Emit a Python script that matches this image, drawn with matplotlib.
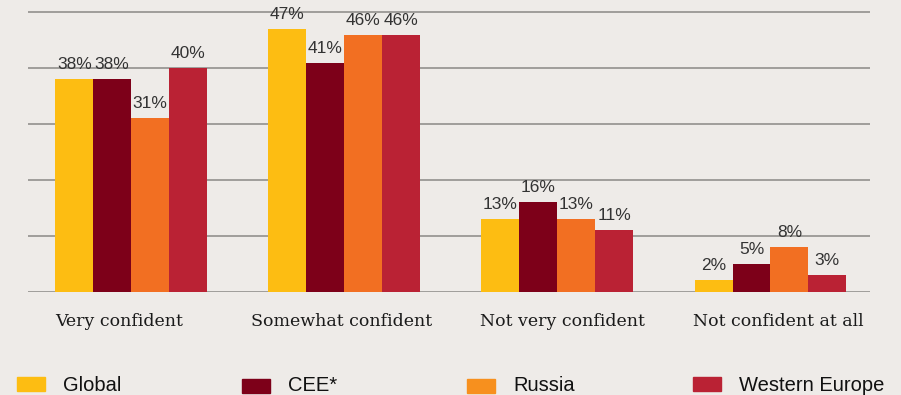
import numpy as np
import matplotlib.pyplot as plt
from matplotlib.patches import Rectangle

# survey answers, % of respondents
categories = ['Very confident', 'Somewhat confident', 'Not very confident', 'Not confident at all']
series = ['Global', 'CEE*', 'Russia', 'Western Europe']
global_vals = [38, 47, 13, 2]
cee_vals = [38, 41, 16, 5]
russia_vals = [31, 46, 13, 8]
west_vals = [40, 46, 11, 3]

bar_colors = ['#FDBD12', '#7D0019', '#F26F22', '#BA2234']
legend_colors = ['#FDBD12', '#7D0019', '#F7901E', '#BA2234']
bg = '#EEEBE8'

plt.rcParams['font.family'] = ['Liberation Sans', 'DejaVu Sans']

fig = plt.figure(figsize=(9.01, 3.95), dpi=100, facecolor=bg)
ax = fig.add_axes([28/901, 103.5/395, 842/901, 291.5/395])
ax.set_facecolor(bg)

x = np.arange(len(categories))
w = 0.178
vals = [global_vals, cee_vals, russia_vals, west_vals]
for i, v in enumerate(vals):
    pos = x + (i - 1.5) * w
    bars = ax.bar(pos, v, w, color=bar_colors[i], zorder=3)
    for b, val in zip(bars, v):
        ax.annotate('%d%%' % val, (b.get_x() + b.get_width() / 2, val),
                    xytext=(0, 5), textcoords='offset points',
                    ha='center', va='bottom', fontsize=12.5, color='#333333', zorder=4)

ax.set_xlim(-0.484, 3.467)
ax.set_ylim(0, 52.2)
ax.set_yticks([0, 10, 20, 30, 40, 50])
ax.yaxis.grid(True, color='#8A8886', linewidth=1.1, zorder=0)
ax.tick_params(axis='y', left=False, labelleft=False)
ax.set_xticks([])
for s in ['top', 'right', 'left', 'bottom']:
    ax.spines[s].set_visible(False)

# category names under each group, nudged a little as in the layout
shift = [-0.056, -0.014, 0.023, 0.038]
for xi, name, dx in zip(x, categories, shift):
    ax.annotate(name, (xi + dx, 0), xytext=(0, -25), textcoords='offset points',
                ha='center', va='baseline', fontsize=12.5, family='DejaVu Serif',
                color='#1A1A1A')

# legend row along the bottom edge
lx = [17, 242, 467, 693]
ly = [376.7, 379, 379, 376.7]
for i, name in enumerate(series):
    fig.patches.append(Rectangle((lx[i] / 901, 1 - (ly[i] + 14) / 395), 28 / 901, 14 / 395,
                                 transform=fig.transFigure, color=legend_colors[i]))
    fig.text((lx[i] + 46) / 901, 1 - 390.7 / 395, name, fontsize=14.5,
             ha='left', va='baseline', color='#111111')

fig.savefig('out.png', dpi=100, facecolor=bg)
